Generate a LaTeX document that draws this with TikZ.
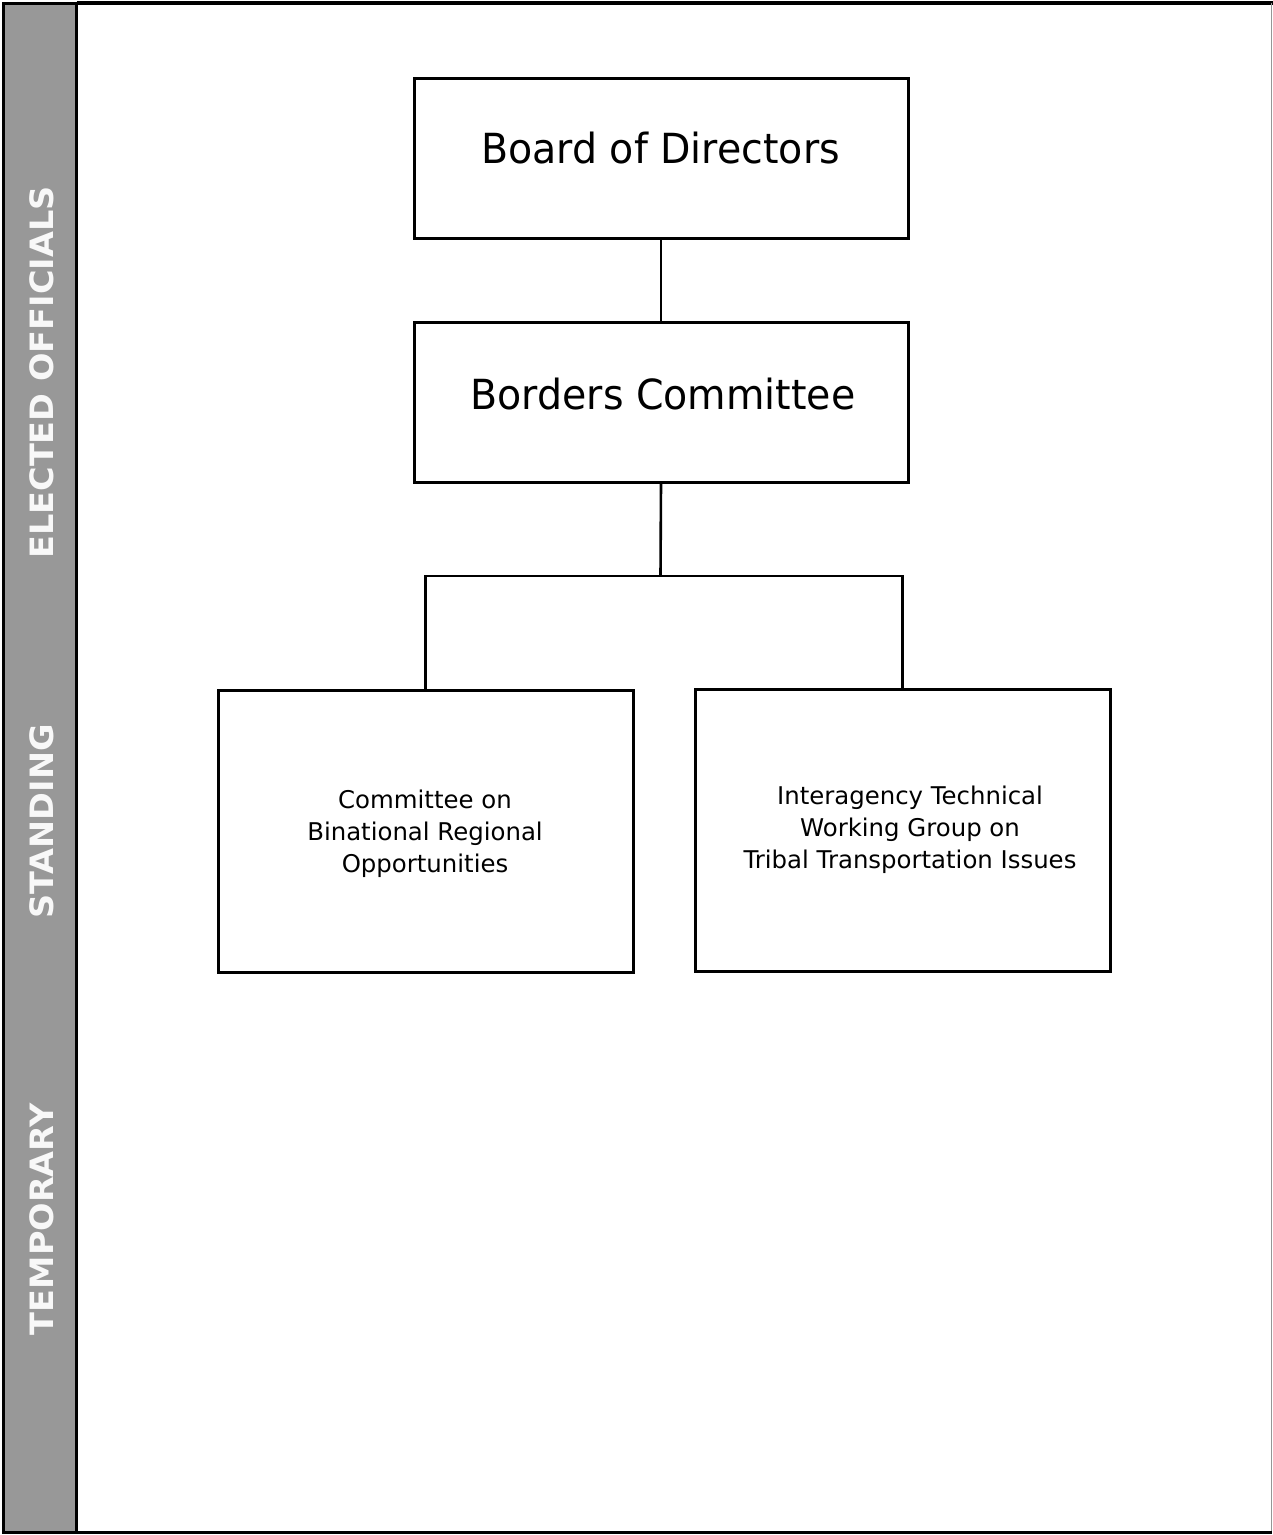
\documentclass[tikz,border=0pt]{standalone}
\usepackage{fontspec}
\usepackage{graphicx}
\setmainfont{DejaVu Sans}
\definecolor{bargray}{RGB}{152,152,152}
\definecolor{labelwhite}{RGB}{248,248,248}
\begin{document}
\begin{tikzpicture}[x=1pt,y=-1pt,
  orgbox/.style={draw=black, line width=3pt, fill=white, inner sep=0pt},
  conn/.style={draw=black, line width=2.6pt},
  bigtext/.style={anchor=base, inner sep=0pt, font=\fontsize{39.5}{46}\selectfont},
  smalltext/.style={anchor=base, inner sep=0pt, font=\fontsize{24.4}{32}\selectfont},
  barlabel/.style={rotate=90, anchor=center, inner sep=0pt, text=labelwhite,
    font=\fontsize{33.5}{40}\selectfont\bfseries}]
\useasboundingbox (0,0) rectangle (1273,1535);
\fill[white] (0,0) rectangle (1273,1535);
% frame
\draw[line width=3pt, fill=bargray] (3.5,3.5) rectangle (76.5,1532);
\draw[line width=3.2pt] (76.5,3) -- (1273,3);
\draw[line width=1.4pt, draw={rgb,255:red,150;green,150;blue,150}] (1271.5,3) -- (1271.5,1532);
\draw[line width=2.4pt] (76.5,1532.5) -- (1272,1532.5);
% bar labels
\node[barlabel] (lelected) at (42,372.5) {\scalebox{1}[0.96]{ELECTED OFFICIALS}};
\node[barlabel] (lstanding) at (42,821.5) {\scalebox{1}[0.96]{STANDING}};
\node[barlabel] (ltemporary) at (42,1219) {\scalebox{1}[0.96]{TEMPORARY}};
% boxes
\node[orgbox, minimum width=494pt, minimum height=160pt] (board) at (661,158) {};
\node[orgbox, minimum width=494pt, minimum height=160pt] (borders) at (661,402) {};
\node[orgbox, minimum width=415pt, minimum height=282pt] (cbro) at (425.5,831) {};
\node[orgbox, minimum width=415pt, minimum height=282pt] (itwg) at (902.5,830) {};
% texts
\node[bigtext] (tboard) at (660.5,163) {\scalebox{1}[1.05]{Board of Directors}};
\node[bigtext] (tborders) at (663,409) {\scalebox{1}[1.05]{Borders Committee}};
\node[smalltext] (tc1) at (425,808) {Committee on};
\node[smalltext] (tc2) at (425,840) {Binational Regional};
\node[smalltext] (tc3) at (425,872) {Opportunities};
\node[smalltext] (ti1) at (910,804) {Interagency Technical};
\node[smalltext] (ti2) at (910,836) {Working Group on};
\node[smalltext] (ti3) at (910,868) {Tribal Transportation Issues};
% connectors
\coordinate (junction) at (660.5,576);
\draw[conn] (board.south) -- (borders.north);
\draw[conn] (borders.south) -- (junction);
\draw[conn] (cbro.north) |- (junction) -| (itwg.north);
\end{tikzpicture}
\end{document}
